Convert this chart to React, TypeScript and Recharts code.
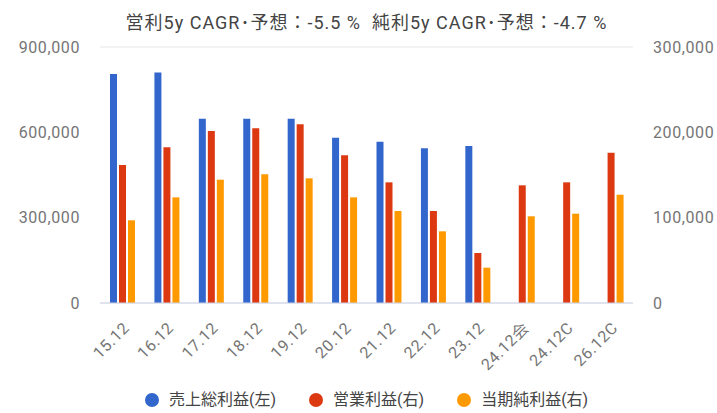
import React from 'react';
import { ComposedChart, Bar, XAxis, YAxis, CartesianGrid } from 'recharts';

const periods = ['15.12', '16.12', '17.12', '18.12', '19.12', '20.12', '21.12', '22.12', '23.12', '24.12会', '24.12C', '26.12C'];
// 売上総利益 (left axis)
const grossProfit = [805000, 810000, 648000, 648000, 648000, 581000, 567000, 544000, 552000, null, null, null];
// 営業利益 (right axis)
const operatingProfit = [161700, 182500, 201600, 204700, 209400, 173000, 141400, 107800, 58600, 137900, 141400, 176200];
// 当期純利益 (right axis)
const netProfit = [96900, 123800, 144500, 150800, 146100, 123800, 107800, 84000, 41400, 101600, 104700, 126900];

const leftTicks = [0, 300000, 600000, 900000];
const rightTicks = [0, 100000, 200000, 300000];

const seriesInfo = [
  { key: 'gross', name: '売上総利益(左)', color: '#3366CC' },
  { key: 'op', name: '営業利益(右)', color: '#DC3912' },
  { key: 'net', name: '当期純利益(右)', color: '#FF9900' }
];

const data = periods.map((p, i) => ({
  period: p,
  gross: grossProfit[i],
  op: operatingProfit[i],
  net: netProfit[i]
}));

const font = 'Roboto, "Noto Sans CJK JP", sans-serif';
const fmt = (v: number) => v.toLocaleString('en-US');
const tickStyle = { fill: '#757575', fontSize: 16, fontFamily: font, letterSpacing: 0.6 };

const App = () => {
  return <div style={{ position: 'absolute', left: 0, top: 0, width: 717, height: 413, background: '#fff', overflow: 'hidden' }}>
      <div style={{
      position: 'absolute',
      left: 0,
      width: 733,
      top: 8,
      textAlign: 'center',
      fontFamily: font,
      fontSize: 18,
      letterSpacing: 1,
      color: '#444',
      whiteSpace: 'pre'
    }}>
        {'営利5y CAGR･予想：-5.5 %  純利5y CAGR･予想：-4.7 %'}
      </div>
      <ComposedChart width={717} height={413} data={data} margin={{ top: 47, right: 0, left: 0, bottom: 0 }} barSize={7} barGap={2}>
        <CartesianGrid vertical={false} stroke="#e6e6e6" />
        <XAxis dataKey="period" interval={0} angle={-45} textAnchor="end" tickLine={false} axisLine={{ stroke: '#ccd3ea' }} tick={tickStyle} tickMargin={12} height={110} />
        <YAxis yAxisId="left" width={100} domain={[0, 900000]} ticks={leftTicks} tickFormatter={fmt} axisLine={false} tickLine={false} tickMargin={14} tick={tickStyle} />
        <YAxis yAxisId="right" orientation="right" width={84} domain={[0, 300000]} ticks={rightTicks} tickFormatter={fmt} axisLine={false} tickLine={false} tickMargin={14} tick={tickStyle} />
        <Bar yAxisId="left" dataKey="gross" name={seriesInfo[0].name} fill={seriesInfo[0].color} isAnimationActive={false} />
        <Bar yAxisId="right" dataKey="op" name={seriesInfo[1].name} fill={seriesInfo[1].color} isAnimationActive={false} />
        <Bar yAxisId="right" dataKey="net" name={seriesInfo[2].name} fill={seriesInfo[2].color} isAnimationActive={false} />
      </ComposedChart>
      <div style={{
      position: 'absolute',
      left: 145,
      top: 390,
      display: 'flex',
      alignItems: 'center',
      fontFamily: font,
      fontSize: 16,
      lineHeight: '20px',
      color: '#444',
      whiteSpace: 'nowrap'
    }}>
        {seriesInfo.map(s => <div key={s.key} style={{ display: 'flex', alignItems: 'center', marginRight: 33 }}>
            <span style={{ width: 14, height: 14, borderRadius: 7, background: s.color, display: 'inline-block', marginRight: 10 }} />
            {s.name}
          </div>)}
      </div>
    </div>;
};

export default App;
